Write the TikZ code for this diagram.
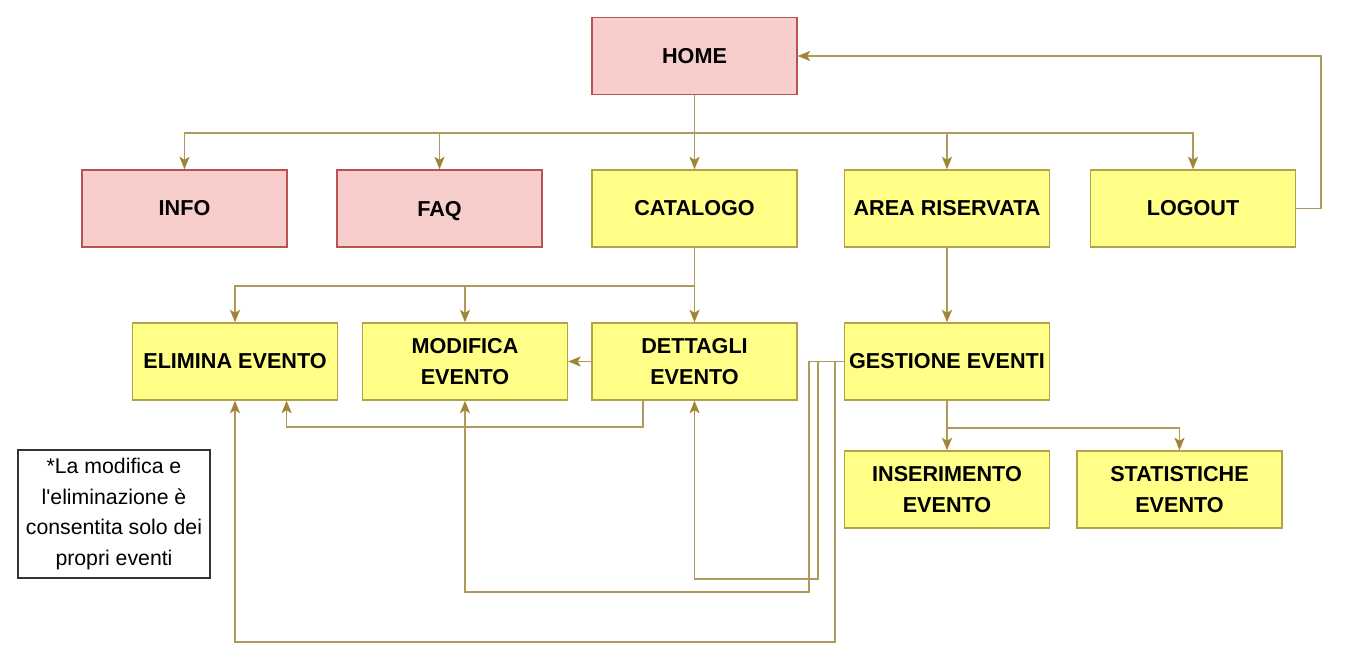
\documentclass[tikz,border=0pt]{standalone}
\usepackage{fontspec}
\setmainfont{Liberation Sans}
\usetikzlibrary{arrows.meta,calc}

\definecolor{pinkfill}{HTML}{F8CECC}
\definecolor{pinkline}{HTML}{B85450}
\definecolor{yelfill}{HTML}{FFFF88}
\definecolor{yelline}{HTML}{B3A24A}
\definecolor{linkcol}{HTML}{B09A5B}
\definecolor{tipcol}{HTML}{A08535}

\tikzset{
  page/.style={draw, line width=0.8pt, minimum width=4.1cm, minimum height=1.54cm,
    inner sep=0pt, align=center, font=\fontsize{12.3pt}{17.5pt}\selectfont\bfseries},
  pubpage/.style={page, fill=pinkfill, draw=pinkline},
  userpage/.style={page, fill=yelfill, draw=yelline},
  link/.style={draw=linkcol, line width=1pt, -{Stealth[length=0.25cm,width=0.2cm,inset=0.06cm,fill=tipcol,color=tipcol]}},
  notebox/.style={draw=black!80, line width=0.9pt, minimum width=3.84cm, minimum height=2.56cm,
    inner sep=0pt, align=center, font=\fontsize{12.1pt}{17.5pt}\selectfont}
}

\begin{document}
\begin{tikzpicture}[x=0.02cm, y=-0.02cm]
  \useasboundingbox (0,0) rectangle (1352,658);

  % first level
  \node[pubpage] (home) at (694.5,56) {HOME};
  \node[pubpage] (info) at (184.5,208.5) {INFO};
  \node[pubpage] (faq) at (439.5,208.5) {\raisebox{0pt}[\height][0pt]{FAQ}};
  \node[userpage] (catalogo) at (694.5,208.5) {CATALOGO};
  \node[userpage] (area) at (947,208.5) {AREA RISERVATA};
  \node[userpage] (logout) at (1193,208.5) {LOGOUT};

  % second level
  \node[userpage] (elimina) at (235,361.5) {ELIMINA EVENTO};
  \node[userpage] (modifica) at (465,361.5) {MODIFICA\\EVENTO};
  \node[userpage] (dettagli) at (694.5,361.5) {DETTAGLI\\EVENTO};
  \node[userpage] (gestione) at (947,361.5) {GESTIONE EVENTI};
  \node[userpage] (inserimento) at (947,489.5) {INSERIMENTO\\EVENTO};
  \node[userpage] (statistiche) at (1179.5,489.5) {STATISTICHE\\EVENTO};

  \node[notebox] (nota) at (114,514) {*La modifica e\\l\textquotesingle eliminazione è\\consentita solo dei\\propri eventi};

  \coordinate (hsplit) at (694.5,133);
  \coordinate (csplit) at (694.5,286);
  \coordinate (gsplit) at (947,428);

  \foreach \n in {info,faq,catalogo,area,logout}{
    \draw[link] (home.south) |- (hsplit) -| (\n.north);
  }
  \draw[link] (logout.east) -- ++(25,0) |- (home.east);

  \foreach \n in {elimina,modifica,dettagli}{
    \draw[link] (catalogo.south) |- (csplit) -| (\n.north);
  }
  \draw[link] (area.south) -- (gestione.north);
  \draw[link] (dettagli.west) -- (modifica.east);
  \draw[link] ($(dettagli.south west)!0.25!(dettagli.south east)$) -- ++(0,26)
    -| ($(elimina.south west)!0.75!(elimina.south east)$);

  \draw[link] (gestione.west) -- ++(-9,0) -- ++(0,280.5) -| (elimina.south);
  \draw[link] (gestione.west) -- ++(-26,0) -- ++(0,217.5) -| (dettagli.south);
  \draw[link] (gestione.west) -- ++(-35,0) -- ++(0,230.5) -| (modifica.south);

  \draw[link] (gestione.south) -- (inserimento.north);
  \draw[link] (gestione.south) |- (gsplit) -| (statistiche.north);
\end{tikzpicture}
\end{document}
